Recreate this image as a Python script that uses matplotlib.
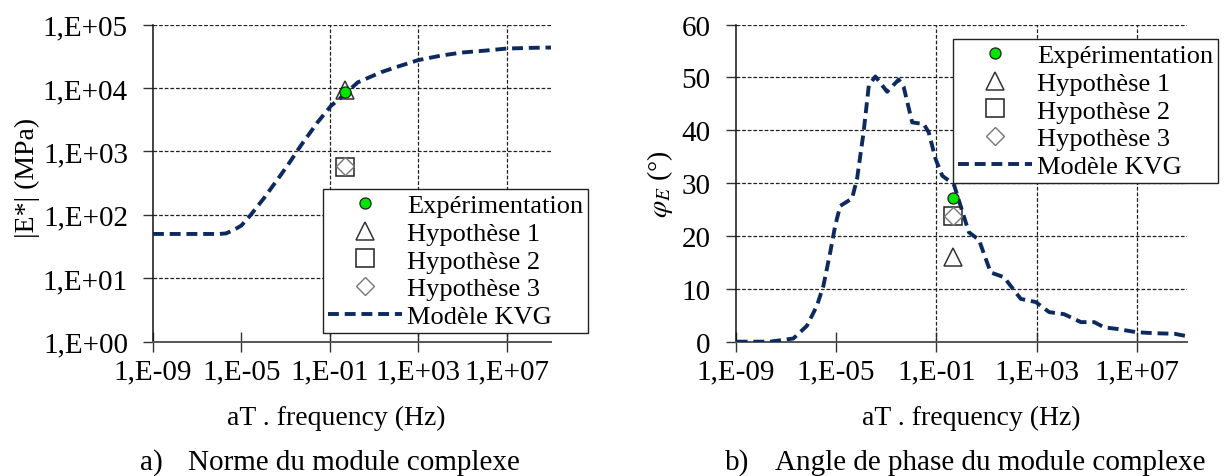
import numpy as np
import matplotlib.pyplot as plt
from matplotlib.ticker import FixedLocator, FuncFormatter, NullLocator

plt.rcParams['font.family'] = ['Liberation Serif', 'DejaVu Serif']
plt.rcParams['mathtext.fontset'] = 'stix'

# --- donnees ----------------------------------------------------------
# modele KVG, norme |E*| (frequence en puissance de 10)
kvg_norm_exp = [-9, -6, -5.7, -5.3, -5.0, -4.6, -4.0, -3.24, -2.8, -2.32, -1.56,
                -0.95, -0.5, 0.26, 1.32, 2.0, 2.98, 4.0, 4.95, 6.0, 7.0, 8.0, 9.0]
kvg_norm = [50, 50, 51, 59, 68, 98, 180, 417, 690, 1230, 2880,
            5250, 7080, 12300, 17800, 21400, 27500, 32400, 36300, 38900, 42000, 43000, 43600]

# modele KVG, angle de phase (deg)
kvg_phase_exp = [-8.96, -7.63, -6.70, -6.16, -5.76, -5.50, -5.23, -5.03, -4.83, -4.36,
                 -4.16, -3.90, -3.69, -3.43, -2.96, -2.50, -2.30, -1.96, -1.50, -1.30,
                 -1.03, -0.76, -0.30, -0.03, 0.30, 0.70, 1.17, 1.70, 2.37, 2.97,
                 3.50, 4.10, 4.77, 5.30, 5.70, 6.24, 6.97, 7.70, 8.50, 9.04]
kvg_phase = [0.0, 0.0, 0.6, 3.0, 6.8, 10.6, 16.9, 22.0, 25.7, 27.1,
             30.8, 39.6, 48.5, 50.2, 47.3, 49.6, 48.2, 41.5, 41.2, 39.6,
             34.6, 31.4, 29.8, 25.7, 20.7, 19.3, 13.1, 12.2, 8.1, 7.5,
             5.6, 5.2, 3.7, 3.7, 2.7, 2.4, 1.8, 1.6, 1.5, 1.0]

# essais / hypotheses
freq_point = 0.46
norm_exp, norm_h1, norm_h2, norm_h3 = 8800, 9200, 560, 600
phase_exp, phase_h1, phase_h2, phase_h3 = 27.2, 16.0, 23.8, 23.8

x_ticks = [1e-9, 1e-5, 1e-1, 1e3, 1e7]
x_vgrid = [1e-1, 1e3, 1e7]
norm_ticks = [1, 10, 100, 1e3, 1e4, 1e5]
phase_ticks = [0, 10, 20, 30, 40, 50, 60]

labels = ['Expérimentation', 'Hypothèse 1', 'Hypothèse 2', 'Hypothèse 3', 'Modèle KVG']

NAVY = '#0d2a5f'
FS = 21


def sci_fmt(v, pos):
    return f"1,E{int(round(np.log10(v))):+03d}"


def draw_points(ax, yvals):
    ye, y1, y2, y3 = yvals
    ax.plot([freq_point], [ye], 'o', ms=8, mfc='#00e600', mec='#222222', mew=0.9,
            ls='none', label=labels[0], zorder=6)
    ax.plot([freq_point], [y1], '^', ms=13, mfc='none', mec='#333333', mew=1.1,
            ls='none', label=labels[1], zorder=5)
    ax.plot([freq_point], [y2], 's', ms=13, mfc='none', mec='#222222', mew=1.1,
            ls='none', label=labels[2], zorder=5)
    ax.plot([freq_point], [y3], 'D', ms=9, mfc='none', mec='#777777', mew=1.0,
            ls='none', label=labels[3], zorder=5)


def style_axes(ax):
    ax.set_xscale('log')
    ax.set_xlim(1e-9, 1e9)
    ax.xaxis.set_major_locator(FixedLocator(x_ticks))
    ax.xaxis.set_minor_locator(NullLocator())
    ax.xaxis.set_major_formatter(FuncFormatter(sci_fmt))
    ax.spines['top'].set_visible(False)
    ax.spines['right'].set_visible(False)
    ax.spines['left'].set_color('#111111')
    ax.spines['left'].set_linewidth(1.1)
    ax.spines['bottom'].set_color('#555555')
    ax.spines['bottom'].set_linewidth(1.4)
    ax.tick_params(axis='x', direction='inout', length=14, width=1.0,
                   color='#333333', labelsize=FS, pad=5)
    ax.tick_params(axis='y', direction='out', length=7, width=1.0,
                   color='#333333', labelsize=FS, pad=11)
    ax.grid(axis='y', color='#222222', lw=0.9, ls=(0, (3, 1.5)))
    for xv in x_vgrid:
        ax.axvline(xv, color='#222222', lw=0.9, ls=(0, (3, 1.5)), zorder=0.9)
    ax.set_axisbelow(True)


fig = plt.figure(figsize=(12.28, 4.77), dpi=100)
ax1 = fig.add_axes([0.1246, 0.2816, 0.3241, 0.6646])
ax2 = fig.add_axes([0.5991, 0.2816, 0.3675, 0.6646])

# ---- a) norme ----
style_axes(ax1)
ax1.set_yscale('log')
ax1.set_ylim(1, 1e5)
ax1.yaxis.set_major_locator(FixedLocator(norm_ticks))
ax1.yaxis.set_minor_locator(NullLocator())
ax1.yaxis.set_major_formatter(FuncFormatter(sci_fmt))
draw_points(ax1, (norm_exp, norm_h1, norm_h2, norm_h3))
ax1.plot(10.0 ** np.array(kvg_norm_exp), kvg_norm, color=NAVY, lw=2.8,
         ls=(0, (2.8, 1.5)), dash_capstyle='butt', label=labels[4], zorder=4)
ax1.set_xlabel('aT . frequency (Hz)', fontsize=20)
ax1.xaxis.label.set_va('baseline')
ax1.xaxis.set_label_coords(0.46, -0.26)
ax1.set_ylabel('|E*| (MPa)', fontsize=20)
ax1.yaxis.label.set_va('center')
ax1.yaxis.set_label_coords(-0.316, 0.52)

# ---- b) angle de phase ----
style_axes(ax2)
ax2.set_ylim(0, 60)
ax2.yaxis.set_major_locator(FixedLocator(phase_ticks))
draw_points(ax2, (phase_exp, phase_h1, phase_h2, phase_h3))
ax2.plot(10.0 ** np.array(kvg_phase_exp), kvg_phase, color=NAVY, lw=2.8,
         ls=(0, (2.8, 1.5)), dash_capstyle='butt', label=labels[4], zorder=4)
ax2.set_xlabel('aT . frequency (Hz)', fontsize=20)
ax2.xaxis.label.set_va('baseline')
ax2.xaxis.set_label_coords(0.521, -0.26)
ax2.set_ylabel(r'$\varphi_E$ (°)', fontsize=20)
ax2.yaxis.label.set_va('center')
ax2.yaxis.set_label_coords(-0.168, 0.5)

leg_kw = dict(fontsize=19, frameon=True, fancybox=False, framealpha=1,
              edgecolor='#222222', borderpad=0.18, handlelength=2.8,
              handletextpad=0.2, labelspacing=0.16, borderaxespad=0,
              loc='upper left')
lg1 = ax1.legend(bbox_to_anchor=(0.263, 0.6017), bbox_transform=fig.transFigure, **leg_kw)
lg2 = ax2.legend(bbox_to_anchor=(0.776, 0.916), bbox_transform=fig.transFigure, **leg_kw)
for lg in (lg1, lg2):
    lg.get_frame().set_linewidth(1.0)
    lg.set_zorder(10)

# legendes sous les graphiques
fig.text(140 / 1228, 7 / 477, 'a)', fontsize=21, va='baseline')
fig.text(188 / 1228, 7 / 477, 'Norme du module complexe', fontsize=21, va='baseline')
fig.text(725 / 1228, 7 / 477, 'b)', fontsize=21, va='baseline')
fig.text(775 / 1228, 7 / 477, 'Angle de phase du module complexe', fontsize=21, va='baseline')

fig.savefig('out.png', dpi=100)
